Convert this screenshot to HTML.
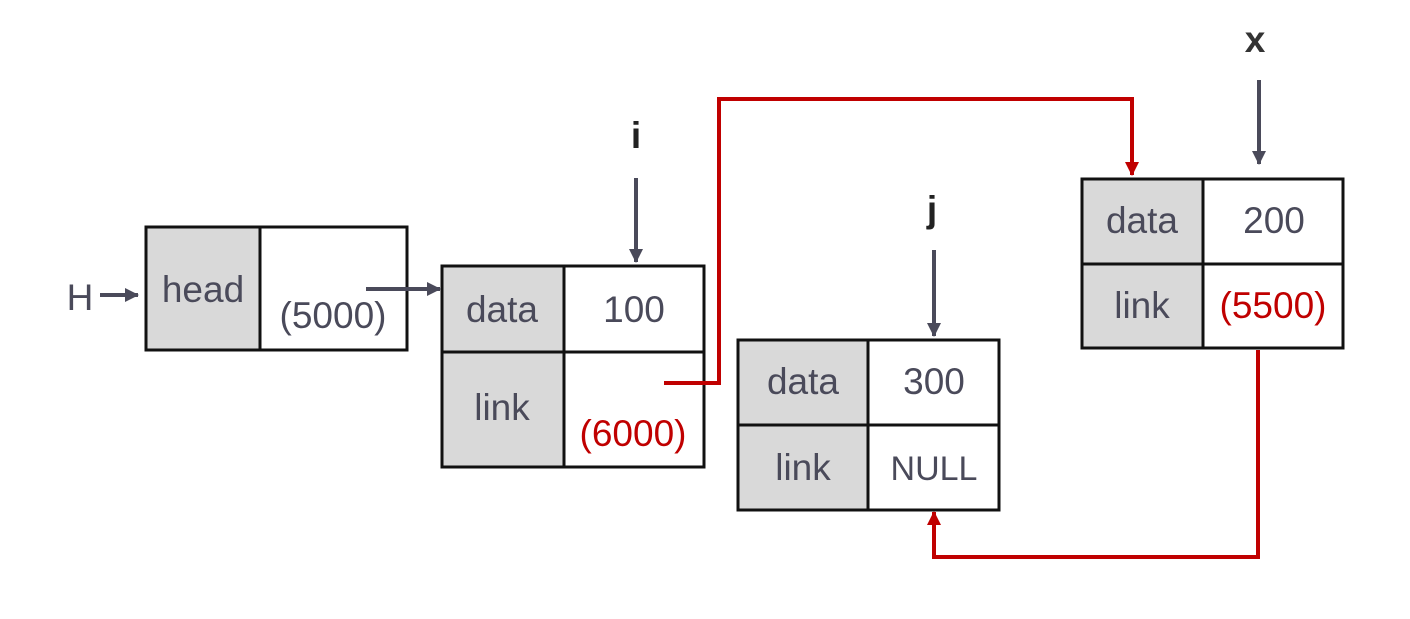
<!DOCTYPE html>
<html><head><style>
body{margin:0;background:#fff}
</style></head><body>
<svg width="1410" height="614" xmlns="http://www.w3.org/2000/svg" font-family="Liberation Sans, DejaVu Sans, sans-serif" font-size="37">
<defs>
<marker id="ar" markerWidth="14" markerHeight="14" refX="13" refY="7" orient="auto" markerUnits="userSpaceOnUse"><path d="M0,0 L14,7 L0,14Z" fill="#c00000"/></marker>
<marker id="ag2" markerWidth="14" markerHeight="14" refX="13" refY="7" orient="auto" markerUnits="userSpaceOnUse"><path d="M0,0 L14,7 L0,14Z" fill="#4a4a5a"/></marker>
</defs>
<g stroke="#111" stroke-width="3">
<rect x="146" y="227" width="114" height="123" fill="#d9d9d9"/>
<rect x="260" y="227" width="147" height="123" fill="#fff"/>
<rect x="442" y="266" width="122" height="201" fill="#d9d9d9"/>
<rect x="564" y="266" width="140" height="201" fill="#fff"/>
<line x1="442" y1="352" x2="704" y2="352"/>
<rect x="738" y="340" width="130" height="170" fill="#d9d9d9"/>
<rect x="868" y="340" width="131" height="170" fill="#fff"/>
<line x1="738" y1="425" x2="999" y2="425"/>
<rect x="1082" y="179" width="121" height="169" fill="#d9d9d9"/>
<rect x="1203" y="179" width="140" height="169" fill="#fff"/>
<line x1="1082" y1="264" x2="1343" y2="264"/>
</g>
<g fill="#4a4a5a" text-anchor="middle">
<text x="80" y="310">H</text>
<text x="203" y="302">head</text>
<text x="333" y="328">(5000)</text>
<text x="502" y="322">data</text>
<text x="634" y="322">100</text>
<text x="502" y="420">link</text>
<text x="803" y="394">data</text>
<text x="934" y="394">300</text>
<text x="803" y="480">link</text>
<text x="934" y="480" font-size="34">NULL</text>
<text x="1142" y="233">data</text>
<text x="1274" y="233">200</text>
<text x="1142" y="318">link</text>
<text x="636" y="148" font-weight="bold" fill="#222">i</text>
<text x="932" y="222" font-weight="bold" fill="#222">j</text>
<text x="1255" y="52" font-weight="bold" fill="#333">x</text>
</g>
<g fill="#c00000" text-anchor="middle">
<text x="633" y="446">(6000)</text>
<text x="1273" y="318">(5500)</text>
</g>
<g stroke="#4a4a5a" stroke-width="4" fill="none">
<line x1="100" y1="295" x2="138" y2="295" marker-end="url(#ag2)"/>
<line x1="366" y1="289" x2="440" y2="289" marker-end="url(#ag2)"/>
<line x1="636" y1="178" x2="636" y2="262" marker-end="url(#ag2)"/>
<line x1="934" y1="250" x2="934" y2="336" marker-end="url(#ag2)"/>
<line x1="1259" y1="80" x2="1259" y2="164" marker-end="url(#ag2)"/>
</g>
<g stroke="#c00000" stroke-width="4" fill="none">
<polyline points="664,383 719,383 719,99 1132,99 1132,175" marker-end="url(#ar)"/>
<polyline points="1258,350 1258,557 934,557 934,512" marker-end="url(#ar)"/>
</g>
</svg>
</body></html>
